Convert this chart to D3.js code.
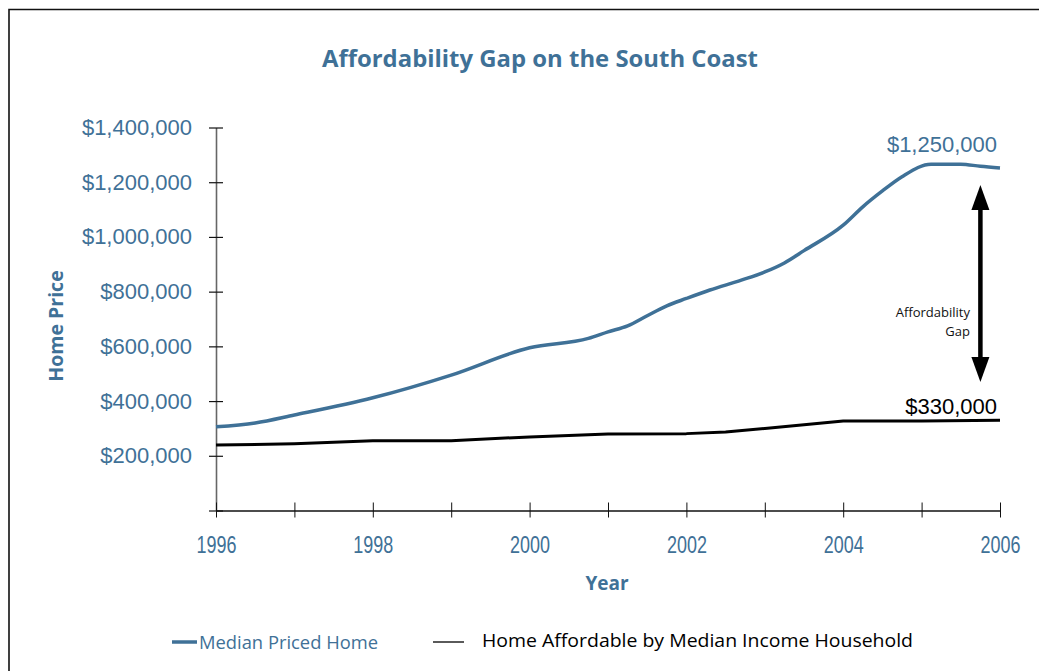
<!DOCTYPE html>
<html>
<head>
<meta charset="utf-8">
<script src="https://cdn.jsdelivr.net/npm/d3@7"></script>
<style>
  html, body { margin: 0; padding: 0; background: #fff; }
  svg { display: block; }
</style>
</head>
<body>
<div id="chart"></div>
<script>
// Affordability gap: median home price vs. price affordable to median income household

const medianYears = [1996, 1996.5, 1997, 1998, 1999, 2000, 2000.75, 2001, 2001.25, 2001.5, 2001.75, 2002,
  2002.3, 2002.7, 2003, 2003.25, 2003.5, 2004, 2004.25, 2004.5, 2004.75, 2005.12, 2005.5, 2005.75, 2006];
const medianPrice = [306000, 320000, 349000, 412000, 495000, 595000, 629000, 653000, 675000, 712000, 748000, 775000,
  806000, 842000, 872000, 905000, 950000, 1043000, 1110000, 1168000, 1220000, 1266000, 1266000, 1258000, 1252000];

const affordYears = [1996, 1997, 1998, 1999, 2000, 2001, 2002, 2002.5, 2003, 2004, 2005, 2006];
const affordPrice = [239000, 244000, 255000, 255000, 269000, 280000, 281000, 287000, 300000, 327000, 327000, 330000];

const yTicks = [0, 200000, 400000, 600000, 800000, 1000000, 1200000, 1400000];
const xTicks = d3.range(1996, 2007);
const xLabels = [1996, 1998, 2000, 2002, 2004, 2006];

// arrow spans (year, top value, bottom value)
const gapArrow = [2005.75, 1190000, 470000];
const endLabels = ["$1,250,000", "$330,000"];

const W = 1039, H = 671;
const BLUE = "#3f7197";
const svg = d3.select("#chart").append("svg").attr("width", W).attr("height", H);

// frame
svg.append("path")
  .attr("d", `M9,${H + 5} V9.5 H${W + 5}`)
  .attr("fill", "none").attr("stroke", "#111").attr("stroke-width", 1.6);

const x = d3.scaleLinear().domain([1996, 2006]).range([216, 1000]);
const y = d3.scaleLinear().domain([0, 1400000]).range([510.5, 127.5]);

svg.append("text")
  .attr("x", 540).attr("y", 67)
  .attr("text-anchor", "middle")
  .attr("font-family", "'Open Sans', sans-serif")
  .attr("font-weight", 700).attr("font-size", 23)
  .attr("fill", BLUE)
  .attr("textLength", 436).attr("lengthAdjust", "spacingAndGlyphs")
  .text("Affordability Gap on the South Coast");

// y axis
const yAxis = svg.append("g").attr("transform", "translate(216,0)")
  .call(d3.axisLeft(y).tickValues(yTicks).tickSize(0).tickPadding(24)
    .tickFormat(d => d === 0 ? "" : "$" + d3.format(",")(d)));
yAxis.select(".domain").attr("stroke", "#666").attr("stroke-width", 1.6);
yAxis.selectAll(".tick line").attr("x1", -7).attr("x2", 7).attr("stroke", "#111").attr("stroke-width", 1.2);
yAxis.selectAll(".tick text")
  .attr("font-family", "'Liberation Sans', Arial, sans-serif").attr("font-size", 22).attr("fill", BLUE);

// x axis
const xAxis = svg.append("g").attr("transform", `translate(0,${y(0)})`)
  .call(d3.axisBottom(x).tickValues(xTicks).tickSize(0).tickPadding(25)
    .tickFormat(d => xLabels.includes(d) ? String(d) : ""));
xAxis.select(".domain").attr("stroke", "#111").attr("stroke-width", 1.4);
xAxis.selectAll(".tick line").attr("y1", -8).attr("y2", 7).attr("stroke", "#111").attr("stroke-width", 1);
xAxis.selectAll(".tick text")
  .filter(d => xLabels.includes(d))
  .attr("font-family", "'Liberation Sans', Arial, sans-serif")
  .attr("font-size", 24.5).attr("fill", BLUE)
  .attr("textLength", 40).attr("lengthAdjust", "spacingAndGlyphs");

// axis titles
svg.append("text")
  .attr("transform", "translate(63,326) rotate(-90)")
  .attr("text-anchor", "middle")
  .attr("font-family", "'Open Sans', sans-serif").attr("font-weight", 700).attr("font-size", 19.5)
  .attr("fill", BLUE).text("Home Price");
svg.append("text")
  .attr("x", 607).attr("y", 590).attr("text-anchor", "middle")
  .attr("font-family", "'Open Sans', sans-serif").attr("font-weight", 700).attr("font-size", 19)
  .attr("fill", BLUE).text("Year");

// lines
svg.append("path")
  .attr("d", d3.line().curve(d3.curveMonotoneX)(medianYears.map((yr, i) => [x(yr), y(medianPrice[i])])))
  .attr("fill", "none").attr("stroke", BLUE).attr("stroke-width", 3.5)
  .attr("stroke-linejoin", "round");
svg.append("path")
  .attr("d", d3.line()(affordYears.map((yr, i) => [x(yr), y(affordPrice[i])])))
  .attr("fill", "none").attr("stroke", "#000").attr("stroke-width", 3)
  .attr("stroke-linejoin", "round");

// end labels
svg.append("text")
  .attr("x", 997).attr("y", 152).attr("text-anchor", "end")
  .attr("font-family", "'Liberation Sans', Arial, sans-serif").attr("font-size", 22)
  .attr("fill", BLUE).text(endLabels[0]);
svg.append("text")
  .attr("x", 997).attr("y", 414).attr("text-anchor", "end")
  .attr("font-family", "'Liberation Sans', Arial, sans-serif").attr("font-size", 22)
  .attr("fill", "#000").text(endLabels[1]);

// double-headed arrow
const ax = x(gapArrow[0]), aTop = y(gapArrow[1]), aBot = y(gapArrow[2]);
const headL = 25, headW = 9;
svg.append("line")
  .attr("x1", ax).attr("x2", ax).attr("y1", aTop + headL - 2).attr("y2", aBot - headL + 2)
  .attr("stroke", "#000").attr("stroke-width", 4.5);
svg.append("path")
  .attr("d", `M${ax},${aTop} L${ax + headW},${aTop + headL} L${ax - headW},${aTop + headL} Z`)
  .attr("fill", "#000");
svg.append("path")
  .attr("d", `M${ax},${aBot} L${ax + headW},${aBot - headL} L${ax - headW},${aBot - headL} Z`)
  .attr("fill", "#000");

const gapText = svg.append("text")
  .attr("text-anchor", "end")
  .attr("font-family", "'Open Sans', sans-serif").attr("font-size", 13).attr("fill", "#111");
gapText.append("tspan").attr("x", 970).attr("y", 317).text("Affordability");
gapText.append("tspan").attr("x", 970).attr("y", 336).text("Gap");

// legend
const legend = svg.append("g");
legend.append("line").attr("x1", 172).attr("x2", 197).attr("y1", 642).attr("y2", 642)
  .attr("stroke", BLUE).attr("stroke-width", 3.5);
legend.append("text").attr("x", 199).attr("y", 649)
  .attr("font-family", "'Open Sans', sans-serif").attr("font-size", 18).attr("fill", BLUE)
  .attr("textLength", 179).attr("lengthAdjust", "spacingAndGlyphs")
  .text("Median Priced Home");
legend.append("line").attr("x1", 433).attr("x2", 464).attr("y1", 642).attr("y2", 642)
  .attr("stroke", "#000").attr("stroke-width", 1.3);
legend.append("text").attr("x", 482).attr("y", 647)
  .attr("font-family", "'Open Sans', sans-serif").attr("font-size", 19).attr("fill", "#000")
  .attr("textLength", 431).attr("lengthAdjust", "spacingAndGlyphs")
  .text("Home Affordable by Median Income Household");
</script>
</body>
</html>
